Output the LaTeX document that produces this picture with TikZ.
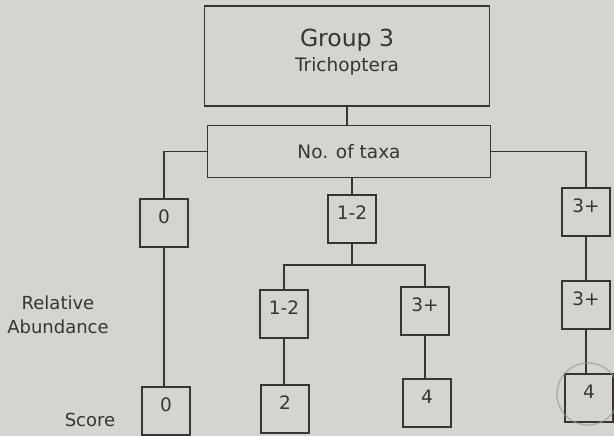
\documentclass[tikz,border=0pt]{standalone}
\usepackage{fontspec}
\setmainfont{DejaVu Sans}
\usetikzlibrary{positioning}
\definecolor{paper}{RGB}{214,212,208}
\definecolor{ink}{RGB}{55,52,50}
\tikzset{
  box/.style={draw=ink,line width=1.3pt,rectangle,text=ink,font=\fontsize{18.5}{22}\selectfont},
  numbox/.style={box,minimum width=48pt,minimum height=48pt,text depth=12pt,inner sep=0pt},
  link/.style={draw=ink,line width=1.3pt},
  side/.style={text=ink,font=\fontsize{18}{24}\selectfont,align=center}
}

\begin{document}
\begin{tikzpicture}[x=1pt,y=-1pt]
\fill[paper] (0,0) rectangle (614,436);
\useasboundingbox (0,0) rectangle (614,436);

\node[box,minimum width=285pt,minimum height=100pt,align=center,text depth=12pt] (group) at (347,56) {%
{\fontsize{23.5}{26}\selectfont Group 3}\\[3pt]Trichoptera};
\node[box,minimum width=283pt,minimum height=52pt,below=18pt of group,xshift=2pt] (taxa) {No. of taxa};

% number of taxa
\node[numbox] (t0) at (164,223) {0};
\node[numbox] (t12) at (352,219) {1-2};
\node[numbox] (t3) at (586,212) {3+};

% relative abundance
\node[numbox] (a12) at (284,314) {1-2};
\node[numbox] (a3) at (425,311) {3+};
\node[numbox] (a3r) at (586,305) {3+};

% score
\node[numbox] (s0) at (166,411) {0};
\node[numbox] (s2) at (285,409) {2};
\node[numbox] (s4) at (427,403) {4};
\node[numbox] (s4r) at (589,398) {4};

\node[side] (abund) at (58,315) {Relative\\Abundance};
\node[side] (score) at (90,420) {Score};

\coordinate (split) at (352,265);

\draw[link] (group.south) -- (group.south |- taxa.north);
\draw[link] (taxa.west) -| (t0.north);
\draw[link] (taxa.east) -| (t3.north);
\draw[link] (t12.north |- taxa.south) -- (t12.north);
\draw[link] (t12.south) -- (split);
\draw[link] (a12.north) |- (split) -| (a3.north);
\draw[link] (t3.south) -- (a3r.north);
\draw[link] (t0.south) -- (t0.south |- s0.north);
\draw[link] (a12.south) -- (a12.south |- s2.north);
\draw[link] (a3.south) -- (a3.south |- s4.north);
\draw[link] (a3r.south) -- (a3r.south |- s4r.north);

\node[draw=gray!80,line width=1.6pt,circle,minimum size=62pt,opacity=0.6] (mark) at (588,394) {};
\end{tikzpicture}
\end{document}
